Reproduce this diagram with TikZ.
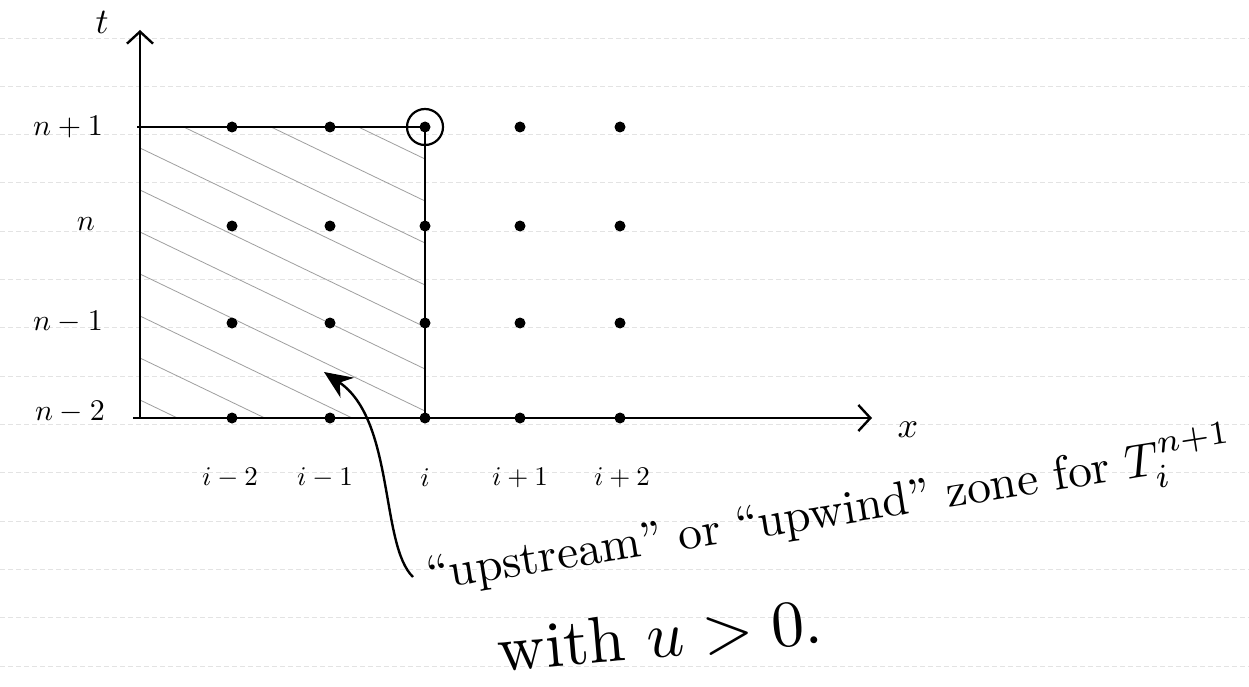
\documentclass[tikz,border=0pt]{standalone}
\usepackage{graphicx}
\usetikzlibrary{arrows.meta}
\begin{document}
\begin{tikzpicture}[x=1pt,y=-1pt,
  dot/.style={circle,fill=black,inner sep=0pt,minimum size=11pt},
  axisline/.style={line width=2.8pt},
  hatchline/.style={gray!75,line width=0.8pt},
  ruled/.style={gray!22,line width=0.8pt,dash pattern=on 5pt off 3pt},
  lbl/.style={inner sep=0pt},
  opentip/.style={-{Straight Barb[length=12pt,width=26pt,line width=2.4pt]}}]
\useasboundingbox (0,0) rectangle (1249,687);
\fill[white] (0,0) rectangle (1249,687);
% ruled paper
\foreach \k in {0,...,13} \draw[ruled] (0,38+48.3*\k) -- (1249,38+48.3*\k);
% hatching of the zone
\begin{scope}
  \clip (140,127) rectangle (425,418);
  \foreach \c in {-20,22,...,420} \draw[hatchline] (140,\c) -- (425,\c+137);
\end{scope}
% axes and box
\coordinate (O) at (140,418);
\coordinate (ttip) at (140,30);
\coordinate (xstart) at (133,418);
\coordinate (xtip) at (872,418);
\coordinate (TL) at (137,127);
\coordinate (TR) at (425,127);
\coordinate (BR) at (425,418);
\draw[axisline,opentip] (O) -- (ttip);
\draw[axisline,opentip] (xstart) -- (xtip);
\draw[axisline] (TL) -- (TR) -- (BR);
% grid dots
\foreach \x [count=\i] in {232,330,425,520,620}
  \foreach \y [count=\j] in {127,226,323,418}
    \node[dot] (d\i\j) at (\x,\y) {};
\node[draw,circle,line width=2.2pt,minimum size=36pt,inner sep=0pt] (ring) at (d31) {};
% axis labels
\node[lbl,scale=3.6] (tl) at (102,22) {$t$};
\node[lbl,scale=3.6] (xl) at (908,430) {$x$};
% row labels
\node[lbl,scale=3] (r1) at (68,127) {$n+1$};
\node[lbl,scale=3] (r2) at (86,224) {$n$};
\node[lbl,scale=3] (r3) at (68,322) {$n-1$};
\node[lbl,scale=3] (r4) at (70,412) {$n-2$};
% column labels
\node[lbl,scale=2.7] (c1) at (230,478) {$i-2$};
\node[lbl,scale=2.7] (c2) at (325,478) {$i-1$};
\node[lbl,scale=2.7] (c3) at (425,478) {$i$};
\node[lbl,scale=2.7] (c4) at (520,478) {$i+1$};
\node[lbl,scale=2.7] (c5) at (622,478) {$i+2$};
% annotation
\node[lbl,rotate=9] (ann1) at (830,512) {\resizebox{815pt}{!}{``upstream'' or ``upwind'' zone for $T_i^{n+1}$}};
\node[lbl,rotate=5] (ann2) at (660,636) {\resizebox{325pt}{!}{with $u>0$.}};
\coordinate (hook) at (413,577);
\coordinate (zone) at (324,372);
\draw[line width=2.4pt,-{Stealth[length=28pt,width=24pt]}] (hook) .. controls (380,545) and (395,420) .. (zone);
\end{tikzpicture}
\end{document}
